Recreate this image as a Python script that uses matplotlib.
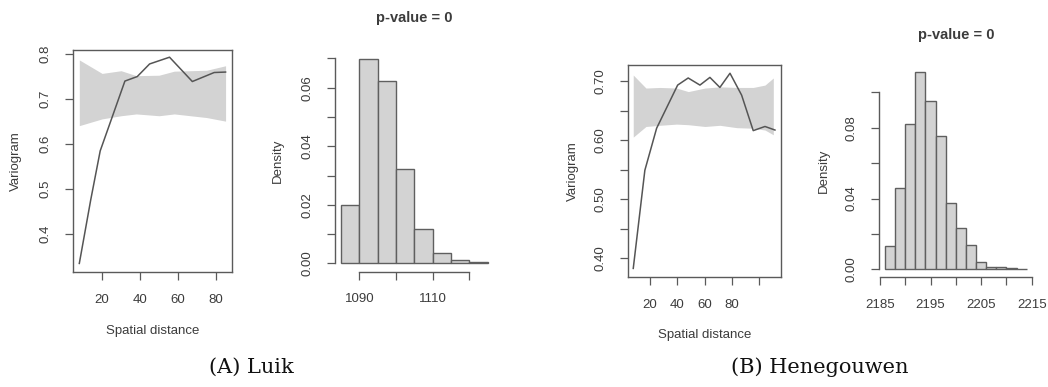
import numpy as np
import matplotlib
matplotlib.use("Agg")
import matplotlib.pyplot as plt

# ---- data: Luik ----
luik_lag = [8, 14, 19, 32, 38.5, 45, 55.5, 67.5, 79, 85]
luik_gamma = [0.335, 0.476, 0.585, 0.740, 0.750, 0.778, 0.793, 0.739, 0.759, 0.760]
luik_env_lag = [8, 20, 30, 38, 50, 58, 75, 85]
luik_env_hi = [0.787, 0.757, 0.763, 0.752, 0.753, 0.762, 0.764, 0.774]
luik_env_lo = [0.641, 0.656, 0.663, 0.667, 0.663, 0.667, 0.659, 0.651]
luik_breaks = [1085, 1090, 1095, 1100, 1105, 1110, 1115, 1120, 1125]
luik_density = [0.0199, 0.0699, 0.0622, 0.0322, 0.0116, 0.0036, 0.0011, 0.0006]

# ---- data: Henegouwen ----
hene_lag = [7.8, 16.3, 24.9, 40.3, 48.0, 56.6, 63.9, 71.2, 78.6, 87.1, 95.6, 104.2, 111.5]
hene_gamma = [0.383, 0.549, 0.620, 0.693, 0.705, 0.693, 0.706, 0.689, 0.713, 0.676,
              0.616, 0.623, 0.617]
hene_env_lag = [7.8, 17.1, 27.3, 39.5, 48.1, 60.3, 71.2, 83.5, 95.6, 104.2, 110.3]
hene_env_hi = [0.710, 0.688, 0.689, 0.688, 0.682, 0.688, 0.690, 0.689, 0.689, 0.693, 0.705]
hene_env_lo = [0.605, 0.623, 0.625, 0.627, 0.626, 0.623, 0.625, 0.621, 0.620, 0.617, 0.609]
hene_breaks = list(range(2186, 2215, 2))
hene_density = [0.0132, 0.0458, 0.0823, 0.1113, 0.0949, 0.0755, 0.0374, 0.0232, 0.0138,
                0.0040, 0.0015, 0.0011, 0.0006, 0.0004]

TXT = "#3c3c3c"
AX = "#5a5a5a"
FILL = "#d3d3d3"

plt.rcParams["font.family"] = ["Liberation Sans", "DejaVu Sans"]
plt.rcParams["font.size"] = 9.5

fig = plt.figure(figsize=(10.48, 3.87), dpi=100)


def r_style(ax, yticks, ylabels, xticks, xlabels):
    """R base graphics look: outward ticks, vertical y labels"""
    ax.set_yticks(yticks)
    ax.set_yticklabels(ylabels, rotation=90, va="center")
    ax.set_xticks(xticks)
    ax.set_xticklabels(xlabels)
    ax.tick_params(direction="out", length=6, width=0.9, color=AX,
                   labelcolor=TXT, pad=9.5, labelsize=9.5)
    for sp in ax.spines.values():
        sp.set_color(AX)
        sp.set_linewidth(1.0)


def variogram_panel(rect, lag, gamma, env_lag, env_hi, env_lo, xlim, ylim,
                    yticks, ylabels, xticks, xlabels, xlab_y):
    ax = fig.add_axes(rect)
    ax.fill_between(env_lag, env_lo, env_hi, color=FILL, lw=0)
    ax.plot(lag, gamma, color="#555555", lw=1.1)
    ax.set_xlim(*xlim)
    ax.set_ylim(*ylim)
    r_style(ax, yticks, ylabels, xticks, xlabels)
    ax.set_ylabel("Variogram", color=TXT, fontsize=9.5, va="center")
    ax.yaxis.set_label_coords(-0.36, 0.5)
    ax.set_xlabel("Spatial distance", color=TXT, fontsize=9.5, va="center")
    ax.xaxis.set_label_coords(0.5, xlab_y)
    return ax


def hist_panel(rect, breaks, dens, xlim, ylim, yticks, ylabels, xticks, xlabels,
               title_y):
    ax = fig.add_axes(rect)
    ax.bar(breaks[:-1], dens, width=np.diff(breaks), align="edge",
           color=FILL, edgecolor="#5f5f5f", lw=1.0)
    ax.set_xlim(*xlim)
    ax.set_ylim(*ylim)
    r_style(ax, yticks, ylabels, xticks, xlabels)
    ax.spines["top"].set_visible(False)
    ax.spines["right"].set_visible(False)
    ax.spines["left"].set_bounds(yticks[0], yticks[-1])
    ax.spines["bottom"].set_bounds(xticks[0], xticks[-1])
    ax.set_ylabel("Density", color=TXT, fontsize=9.5, va="center")
    ax.yaxis.set_label_coords(-0.365, 0.5)
    ax.set_title("p-value = 0", fontweight="bold", fontsize=10.5, color=TXT,
                 y=title_y, va="center", pad=0)
    return ax


# (A) Luik
variogram_panel([0.0697, 0.2972, 0.1517, 0.5736],
                luik_lag, luik_gamma, luik_env_lag, luik_env_hi, luik_env_lo,
                (4.7, 88.4), (0.316, 0.809),
                [0.4, 0.5, 0.6, 0.7, 0.8], ["0.4", "0.5", "0.6", "0.7", "0.8"],
                [20, 40, 60, 80], ["20", "40", "60", "80"], -0.266)
hist_panel([0.3199, 0.2984, 0.1510, 0.5710], luik_breaks, luik_density,
           (1083.4, 1126.6), (-0.0028, 0.0727),
           [0.00, 0.01, 0.02, 0.03, 0.04, 0.05, 0.06, 0.07],
           ["0.00", "", "0.02", "", "0.04", "", "0.06", ""],
           [1090, 1100, 1110, 1120], ["1090", "", "1110", ""], 1.147)

# (B) Henegouwen
variogram_panel([0.5989, 0.2835, 0.1463, 0.5486],
                hene_lag, hene_gamma, hene_env_lag, hene_env_hi, hene_env_lo,
                (3.7, 115.9), (0.368, 0.727),
                [0.40, 0.45, 0.50, 0.55, 0.60, 0.65, 0.70],
                ["0.40", "", "0.50", "", "0.60", "", "0.70"],
                [20, 40, 60, 80, 100], ["20", "40", "60", "80", ""], -0.272)
hist_panel([0.8391, 0.2837, 0.1459, 0.5496], hene_breaks, hene_density,
           (2184.88, 2215.12), (-0.00445, 0.1157),
           [0.00, 0.02, 0.04, 0.06, 0.08, 0.10],
           ["0.00", "", "0.04", "", "0.08", ""],
           [2185, 2190, 2195, 2200, 2205, 2210, 2215],
           ["2185", "", "2195", "", "2205", "", "2215"], 1.139)

# captions
fig.text(251 / 1048, 1 - 367 / 387, "(A) Luik", family="DejaVu Serif",
         fontsize=15, ha="center", va="center", color="#111111")
fig.text(820 / 1048, 1 - 367 / 387, "(B) Henegouwen", family="DejaVu Serif",
         fontsize=15, ha="center", va="center", color="#111111")

fig.savefig("out.png", dpi=100)
